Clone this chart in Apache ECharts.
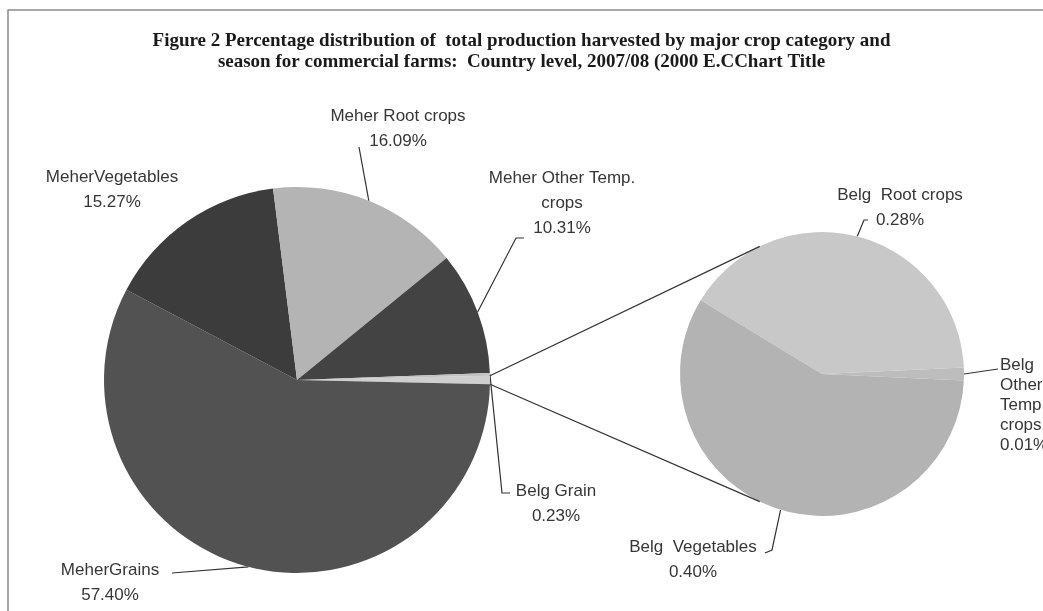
<!DOCTYPE html>
<html><head><meta charset="utf-8">
<script src="https://cdn.jsdelivr.net/npm/echarts@6/dist/echarts.min.js"></script>
<style>html,body{margin:0;padding:0;background:#fff}#c{width:1043px;height:611px}</style>
</head><body><div id="c"></div>
<script>
// ---- data (percent of total production) ----
const mainCategories = ['Belg (other)', 'MeherGrains', 'MeherVegetables', 'Meher Root crops', 'Meher Other Temp. crops', 'Belg Grain'];
const subCategories = ['Belg  Root crops', 'Belg Other Temp. crops', 'Belg  Vegetables'];
const subValues = [0.28, 0.01, 0.40];
const mainMeherValues = [57.40, 15.27, 16.09, 10.31, 0.23];
const titleLines = ['Figure 2 Percentage distribution of  total production harvested by major crop category and',
                    'season for commercial farms:  Country level, 2007/08 (2000 E.CChart Title'];

// the "other" slice of the main pie is the total of the secondary pie
const otherValue = subValues.reduce((a, b) => a + b, 0);
const mainValues = [otherValue].concat(mainMeherValues);

// ---- styling / layout ----
const mainColors = ['#cfcfcf', '#525252', '#3c3c3c', '#b4b4b4', '#434343', '#c2c2c2'];
const subColors = ['#c8c8c8', '#bdbdbd', '#b3b3b3'];
const labelText = {
  'Meher Other Temp. crops': 'Meher Other Temp.\ncrops',
  'Belg Other Temp. crops': 'Belg\nOther\nTemp.\ncrops'
};
const MAIN_C = [297, 380], MAIN_R = 193;
const SUB_C = [822, 374], SUB_R = 142;

const mainLabelLayout = {
  'MeherGrains': { x: 110, y: 583, line: [[172, 573]] },
  'MeherVegetables': { x: 112, y: 190 },
  'Meher Root crops': { x: 398, y: 129, line: [[359, 147]] },
  'Meher Other Temp. crops': { x: 562, y: 203, line: [[516, 238], [524, 238]] },
  'Belg Grain': { x: 556, y: 504, line: [[502, 493], [510, 493]] }
};
const subLabelLayout = {
  'Belg  Root crops': { x: 900, y: 208, line: [[864, 220], [868, 220]] },
  'Belg Other Temp. crops': { x: 1000, y: 405, align: 'left', line: [[998, 369]] },
  'Belg  Vegetables': { x: 693, y: 560, line: [[772, 550], [765, 553]] }
};

const labelBase = {
  fontFamily: 'Liberation Sans', fontSize: 17, lineHeight: 25, color: '#363636'
};
function fmt(p) {
  const t = labelText[p.name] || p.name;
  return t + '\n' + p.value.toFixed(2) + '%';
}
function makeLayout(map) {
  return function (p) {
    const name = p.seriesIndex === 0 ? mainCategories[p.dataIndex] : subCategories[p.dataIndex];
    const L = map[name];
    if (!L) return {};
    const out = { x: L.x, y: L.y, align: L.align || 'center', verticalAlign: 'middle' };
    const pts = p.labelLinePoints;
    if (pts && L.line) out.labelLinePoints = [pts[0]].concat(L.line);
    return out;
  };
}

const mainTotal = mainValues.reduce((a, b) => a + b, 0);
const mainStart = otherValue / mainTotal * 180;
const subTotal = otherValue;
const subStart = (subValues[0] + subValues[1] / 2) / subTotal * 360;

const mainData = mainCategories.map((n, i) => {
  const d = { name: n, value: mainValues[i], itemStyle: { color: mainColors[i] } };
  if (i === 0) { d.label = { show: false }; d.labelLine = { show: false }; }
  if (n === 'MeherVegetables') { d.labelLine = { show: false }; }
  return d;
});
const subData = subCategories.map((n, i) => {
  const d = { name: n, value: subValues[i], itemStyle: { color: subColors[i] } };
  if (n === 'Belg Other Temp. crops') d.label = { lineHeight: 20 };
  return d;
});

// connector lines between the "other" slice and the secondary pie
const half = mainStart * Math.PI / 180;
const pA = [MAIN_C[0] + MAIN_R * Math.cos(half), MAIN_C[1] - MAIN_R * Math.sin(half)];
const pB = [MAIN_C[0] + MAIN_R * Math.cos(half), MAIN_C[1] + MAIN_R * Math.sin(half)];
const ang = 116 * Math.PI / 180;
const qA = [SUB_C[0] + SUB_R * Math.cos(ang), SUB_C[1] - SUB_R * Math.sin(ang)];
const qB = [SUB_C[0] + SUB_R * Math.cos(ang), SUB_C[1] + SUB_R * Math.sin(ang)];

const chart = echarts.init(document.getElementById('c'), null, { renderer: 'canvas' });
chart.setOption({
  backgroundColor: '#ffffff',
  animation: false,
  title: {
    text: titleLines.join('\n'),
    left: 'center', top: 26,
    textStyle: { fontFamily: 'Liberation Serif', fontWeight: 'bold', fontSize: 19, lineHeight: 21, color: '#1a1a1a' }
  },
  graphic: [
    { type: 'rect', silent: true, shape: { x: 8, y: 10, width: 1100, height: 700 },
      style: { fill: 'none', stroke: '#8a8a8a', lineWidth: 1.5 } },
    { type: 'line', silent: true, z: 10, shape: { x1: pA[0], y1: pA[1], x2: qA[0], y2: qA[1] },
      style: { stroke: '#333', lineWidth: 1.2 } },
    { type: 'line', silent: true, z: 10, shape: { x1: pB[0], y1: pB[1], x2: qB[0], y2: qB[1] },
      style: { stroke: '#333', lineWidth: 1.2 } }
  ],
  series: [
    {
      type: 'pie', center: MAIN_C, radius: MAIN_R, startAngle: mainStart, clockwise: true,
      avoidLabelOverlap: false, silent: true,
      label: Object.assign({ show: true, position: 'outside', formatter: fmt }, labelBase),
      labelLine: { show: true, length: 5, length2: 5, lineStyle: { color: '#333', width: 1.2 } },
      labelLayout: makeLayout(mainLabelLayout),
      data: mainData
    },
    {
      type: 'pie', center: SUB_C, radius: SUB_R, startAngle: subStart, clockwise: true,
      avoidLabelOverlap: false, silent: true,
      label: Object.assign({ show: true, position: 'outside', formatter: fmt }, labelBase),
      labelLine: { show: true, length: 5, length2: 5, lineStyle: { color: '#333', width: 1.2 } },
      labelLayout: makeLayout(subLabelLayout),
      data: subData
    }
  ]
});
</script>
</body></html>
